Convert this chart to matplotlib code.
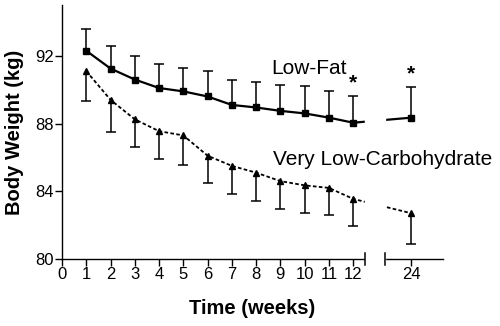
import numpy as np
import matplotlib.pyplot as plt
import matplotlib.transforms as mtransforms

plt.rcParams['font.family'] = ['Liberation Sans', 'DejaVu Sans']

# weeks shown; week 24 sits after the axis break
weeks = [1, 2, 3, 4, 5, 6, 7, 8, 9, 10, 11, 12, 24]
week_pos = [1, 2, 3, 4, 5, 6, 7, 8, 9, 10, 11, 12, 14.4]

# Low-fat group: means and upper error bar ends (kg)
lf_mean = [92.3, 91.25, 90.6, 90.1, 89.9, 89.6, 89.1, 88.95, 88.75, 88.6, 88.35, 88.05, 88.35]
lf_top = [93.6, 92.6, 92.0, 91.5, 91.3, 91.1, 90.6, 90.45, 90.3, 90.2, 89.9, 89.65, 90.15]

# Very low-carbohydrate group: means and lower error bar ends (kg)
vlc_mean = [91.1, 89.4, 88.25, 87.55, 87.3, 86.1, 85.5, 85.1, 84.6, 84.35, 84.2, 83.55, 82.7]
vlc_low = [89.35, 87.5, 86.6, 85.9, 85.55, 84.5, 83.85, 83.45, 82.95, 82.7, 82.6, 81.95, 80.9]

# weeks flagged as significant
star_weeks = [12, 24]

xtick_pos = list(range(13)) + [14.4]
xtick_labels = [str(i) for i in range(13)] + ['24']

fig = plt.figure(figsize=(5, 3.26), dpi=100)
ax = fig.add_axes([0.124, 0.2055, 0.762, 0.779])

# error bars
ax.vlines(week_pos, lf_mean, lf_top, color='black', lw=1.1, zorder=2)
ax.plot(week_pos, lf_top, ls='none', marker='_', ms=7, mew=1.1, color='black')
ax.vlines(week_pos, vlc_low, vlc_mean, color='black', lw=1.1, zorder=2)
ax.plot(week_pos, vlc_low, ls='none', marker='_', ms=7, mew=1.1, color='black')

# series
ax.plot(week_pos, lf_mean, color='black', lw=1.6, marker='s', ms=5, zorder=3)
ax.plot(week_pos, vlc_mean, color='black', lw=1.3, ls=(0, (2, 1.3)),
        marker='^', ms=4.5, zorder=3)

# significance stars
for w in star_weeks:
    i = weeks.index(w)
    ax.text(week_pos[i], lf_top[i] + 0.2, '*', ha='center', va='bottom',
            fontsize=15, fontweight='bold')

# axis break: blank the gap between week 12 and week 24
ax.axvspan(12.5, 13.33, ymin=-0.02, ymax=1, color='white', zorder=4, clip_on=False)
trans = mtransforms.blended_transform_factory(ax.transData, ax.transAxes)
for bx in [12.5, 13.33]:
    ax.plot([bx, bx], [-0.022, 0.022], transform=trans, color='black', lw=1.1,
            clip_on=False, zorder=5)

ax.text(8.64, 91.25, 'Low-Fat', fontsize=15, va='center', ha='left', zorder=6)
ax.text(8.68, 85.9, 'Very Low-Carbohydrate', fontsize=15, va='center', ha='left',
        zorder=6)

ax.set_xlim(0, 15.7)
ax.set_ylim(80, 95)
ax.set_xticks(xtick_pos)
ax.set_xticklabels(xtick_labels)
ax.set_yticks([80, 84, 88, 92])
ax.tick_params(axis='both', labelsize=12, length=5, width=1, direction='out', pad=1)
ax.spines['top'].set_visible(False)
ax.spines['right'].set_visible(False)
ax.spines['left'].set_linewidth(1)
ax.spines['bottom'].set_linewidth(1)

ax.set_xlabel('Time (weeks)', fontsize=14.5, fontweight='bold', labelpad=12)
ax.set_ylabel('Body Weight (kg)', fontsize=14.5, fontweight='bold', labelpad=8)

fig.savefig('out.png', dpi=100)
